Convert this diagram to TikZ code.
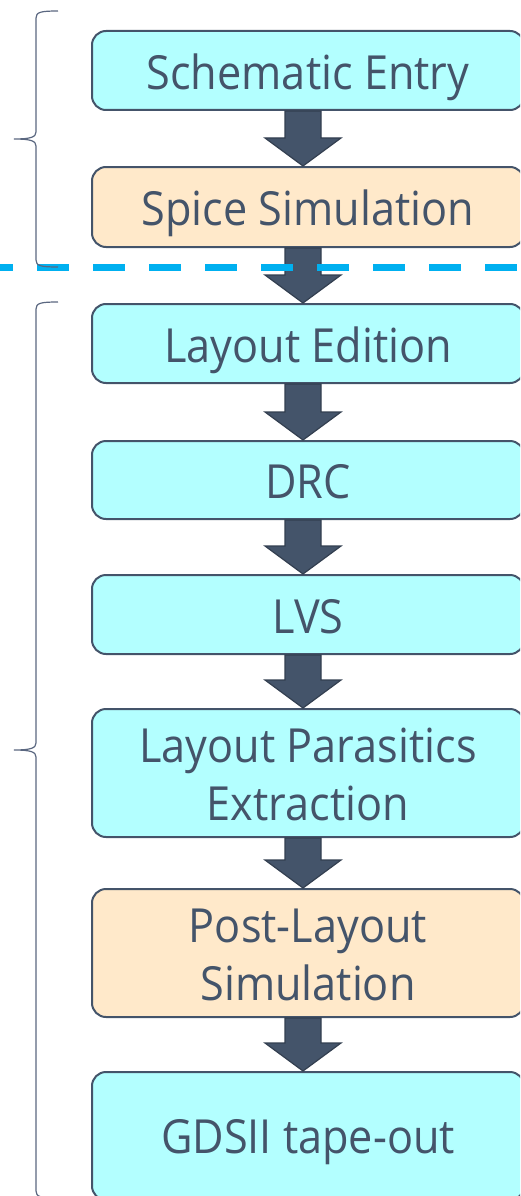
\documentclass[tikz,border=0pt]{standalone}
\usepackage{fontspec}
\setmainfont[FakeStretch=0.92]{Open Sans}
\usetikzlibrary{calc}
\definecolor{txt}{HTML}{44546A}
\definecolor{cyanbox}{HTML}{B3FFFF}
\definecolor{orangebox}{HTML}{FFE9CA}
\definecolor{arrfill}{HTML}{44546A}
\definecolor{arredge}{HTML}{333F50}
\definecolor{dashblue}{HTML}{00B0F0}
\definecolor{bracecol}{HTML}{5A6780}
\newcommand\oneline[2][18.5pt]{\raisebox{-#1}[0pt][0pt]{#2}}
\newcommand\twolines[2]{\raisebox{-47pt}[0pt][0pt]{\begin{tabular}[b]{@{}c@{}}#1\\#2\end{tabular}}}
\newcommand\flowarrow[2]{%
  \filldraw[bigarrow] let \p1=(#1.south), \p2=(#2.north) in
    (285pt,\y1) -- (321pt,\y1) -- (321pt,\y2+28pt) -- (341pt,\y2+28pt) --
    (303pt,\y2) -- (265pt,\y2+28pt) -- (285pt,\y2+28pt) -- cycle;}
\tikzset{
  stepbox/.style={draw=txt, line width=2pt, rounded corners=14pt,
    minimum width=432pt, inner sep=0pt, text=txt,
    font=\fontsize{47}{58}\selectfont},
  cyanstep/.style={stepbox, fill=cyanbox},
  orangestep/.style={stepbox, fill=orangebox},
  bigarrow/.style={fill=arrfill, draw=arredge, line width=1.2pt, line join=miter},
  bracestyle/.style={draw=bracecol, line width=1.2pt},
  dashsep/.style={draw=dashblue, line width=7pt, dash pattern=on 32pt off 24pt, dash phase=19pt}
}
\begin{document}
\begin{tikzpicture}[x=1pt,y=1pt]
\useasboundingbox (0,0) rectangle (520,-1196);
\clip (0,0) rectangle (520,-1196);

\node[cyanstep, minimum height=79pt] (b1) at (308,-70.5) {\oneline[19.5pt]{Schematic Entry}};
\node[orangestep, minimum height=80pt] (b2) at (308,-207) {\oneline{Spice Simulation}};
\node[cyanstep, minimum height=79pt] (b3) at (308,-343.5) {\oneline{Layout Edition}};
\node[cyanstep, minimum height=78pt] (b4) at (308,-480) {\oneline{DRC}};
\node[cyanstep, minimum height=79pt] (b5) at (308,-614.5) {\oneline{LVS}};
\node[cyanstep, minimum height=128pt] (b6) at (308,-773) {\twolines{Layout Parasitics}{Extraction}};
\node[orangestep, minimum height=128pt] (b7) at (308,-953) {\twolines{Post-Layout}{Simulation}};
\node[cyanstep, minimum height=128pt] (b8) at (308,-1136) {\oneline[17pt]{GDSII tape-out}};

\flowarrow{b1}{b2}
\flowarrow{b2}{b3}
\flowarrow{b3}{b4}
\flowarrow{b4}{b5}
\flowarrow{b5}{b6}
\flowarrow{b6}{b7}
\flowarrow{b7}{b8}

\coordinate (dl) at (0,-267);
\coordinate (dr) at (520,-267);
\draw[dashsep] (dl) -- (dr);

\draw[bracestyle] (58,-11) .. controls (41,-11) and (36,-12) .. (36,-18)
  -- (36,-132) .. controls (36,-137) and (31,-139) .. (14,-139)
  .. controls (31,-139) and (36,-141) .. (36,-146)
  -- (36,-260) .. controls (36,-266) and (41,-267) .. (58,-267);
\draw[bracestyle] (58,-302) .. controls (41,-302) and (36,-303) .. (36,-309)
  -- (36,-743) .. controls (36,-748) and (31,-750) .. (14,-750)
  .. controls (31,-750) and (36,-752) .. (36,-757)
  -- (36,-1191) .. controls (36,-1197) and (41,-1198) .. (58,-1198);
\end{tikzpicture}
\end{document}
